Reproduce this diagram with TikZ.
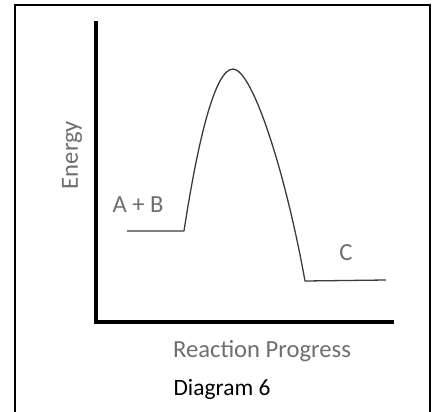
\documentclass[tikz,border=0pt]{standalone}
\usepackage{fontspec}
\setmainfont{Carlito}
\usepackage{tikz}
\usetikzlibrary{positioning}
\definecolor{labelGrey}{HTML}{6E6E6E}
\definecolor{curveGrey}{HTML}{3A3A3A}

\begin{document}
\begin{tikzpicture}[x=0.03cm, y=-0.03cm,
    axis/.style={line width=3pt, black},
    path line/.style={line width=1.1pt, curveGrey, line join=round},
    lbl/.style={text=labelGrey, font=\fontsize{21}{24}\selectfont, inner sep=0pt}]
  \useasboundingbox (0,0) rectangle (436,412);
  % frame
  \draw[line width=1.6pt] (15,415) |- (430,5) -- (430,415);
  % axes
  \coordinate (origin) at (96,322);
  \coordinate (ytop) at (96,21);
  \coordinate (xend) at (394,322);
  \draw[axis] (ytop) -- (origin) -- (xend);
  % energy profile
  \coordinate (react start) at (127,231);
  \coordinate (react end) at (184,231);
  \coordinate (peak) at (233,69);
  \coordinate (prod start) at (305,281);
  \coordinate (prod end) at (386,280);
  \draw[path line] (react start) -- (react end)
    .. controls (198,140) and (215,69) .. (peak)
    .. controls (252,69) and (285,170) .. (prod start) -- (prod end);
  % labels
  \node[lbl] (reactants) at (138,205) {A + B};
  \node[lbl] (products) at (346,253) {C};
  \node[lbl, rotate=90] (energy) at (72,155) {Energy};
  \node[lbl] (progress) at (262,351) {Reaction Progress};
  \node[font=\fontsize{20}{24}\selectfont, inner sep=0pt] (caption) at (222,389) {Diagram 6};
\end{tikzpicture}
\end{document}
